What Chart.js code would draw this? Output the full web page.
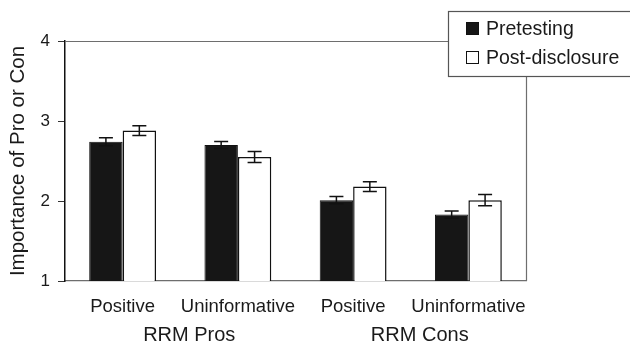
<!DOCTYPE html>
<html>
<head>
<meta charset="utf-8">
<script src="https://cdn.jsdelivr.net/npm/chart.js@4/dist/chart.umd.min.js"></script>
<style>
  html, body { margin: 0; padding: 0; background: #fff; }
  #wrap { width: 630px; height: 347px; }
</style>
</head>
<body>
<div id="wrap"><canvas id="c" width="630" height="347"></canvas></div>
<script>
const categories = ["Positive", "Uninformative", "Positive", "Uninformative"];
const groups = ["RRM Pros", "RRM Cons"];
const seriesNames = ["Pretesting", "Post-disclosure"];
const pretesting = [2.74, 2.70, 2.01, 1.83];
const postDisclosure = [2.88, 2.55, 2.18, 2.01];
const pretestingErr = [0.05, 0.045, 0.045, 0.045];
const postDisclosureErr = [0.06, 0.07, 0.06, 0.07];
const yTicks = [1, 2, 3, 4];

const FONT = "'Liberation Sans', Arial, sans-serif";
const TEXT = "#1a1a1a";

const extras = {
  id: "extras",
  beforeDatasetsDraw(chart) {
    const ctx = chart.ctx, a = chart.chartArea;
    ctx.save();
    ctx.strokeStyle = "#6e6e6e";
    ctx.lineWidth = 1.2;
    ctx.beginPath();
    ctx.moveTo(a.left, a.top + 0.5);
    ctx.lineTo(a.right + 0.5, a.top + 0.5);
    ctx.lineTo(a.right + 0.5, a.bottom);
    ctx.stroke();
    ctx.restore();
  },
  afterDatasetsDraw(chart) {
    const ctx = chart.ctx, y = chart.scales.y;
    const errs = [pretestingErr, postDisclosureErr];
    ctx.save();
    ctx.strokeStyle = "#111";
    ctx.lineWidth = 1.5;
    chart.data.datasets.forEach((ds, di) => {
      const meta = chart.getDatasetMeta(di);
      meta.data.forEach((bar, i) => {
        const v = ds.data[i], e = errs[di][i];
        const x = bar.x;
        const yt = y.getPixelForValue(v + e), yb = y.getPixelForValue(v - e);
        ctx.beginPath();
        ctx.moveTo(x, yt); ctx.lineTo(x, yb);
        ctx.moveTo(x - 7, yt); ctx.lineTo(x + 7, yt);
        ctx.moveTo(x - 7, yb); ctx.lineTo(x + 7, yb);
        ctx.stroke();
      });
    });
    ctx.restore();
  },
  afterDraw(chart) {
    const ctx = chart.ctx, xs = chart.scales.x;
    ctx.save();
    ctx.fillStyle = TEXT;
    ctx.font = "20px " + FONT;
    ctx.textAlign = "center";
    ctx.textBaseline = "middle";
    groups.forEach((g, gi) => {
      const cx = (xs.getPixelForValue(gi * 2) + xs.getPixelForValue(gi * 2 + 1)) / 2 + 9;
      ctx.fillText(g, cx, 335);
    });
    const lx = 448.5, ly = 11.5, lw = 200, lh = 65;
    ctx.fillStyle = "#fff";
    ctx.fillRect(lx, ly, lw, lh);
    ctx.strokeStyle = "#555";
    ctx.lineWidth = 1.2;
    ctx.strokeRect(lx, ly, lw, lh);
    const rows = [29, 58];
    const fills = ["#161616", "#ffffff"];
    ctx.font = "19.5px " + FONT;
    ctx.textAlign = "left";
    seriesNames.forEach((n, i) => {
      ctx.fillStyle = fills[i];
      ctx.fillRect(466.5, rows[i] - 6.5, 12, 12);
      ctx.strokeStyle = "#111";
      ctx.lineWidth = 1;
      ctx.strokeRect(466.5, rows[i] - 6.5, 12, 12);
      ctx.fillStyle = TEXT;
      ctx.fillText(n, 486, rows[i] + 1);
    });
    ctx.restore();
  }
};

new Chart(document.getElementById("c"), {
  type: "bar",
  data: {
    labels: categories,
    datasets: [
      { label: seriesNames[0], data: pretesting, backgroundColor: "#161616", borderColor: "#111", borderWidth: 1 },
      { label: seriesNames[1], data: postDisclosure, backgroundColor: "#ffffff", borderColor: "#111", borderWidth: 1.5 }
    ]
  },
  options: {
    responsive: false,
    animation: false,
    devicePixelRatio: 1,
    layout: { padding: { left: 0, right: 104, top: 41, bottom: 0 } },
    plugins: { legend: { display: false }, tooltip: { enabled: false } },
    datasets: { bar: { categoryPercentage: 0.58, barPercentage: 1.0 } },
    scales: {
      x: {
        grid: { display: false, drawTicks: false },
        border: { display: true, color: "#6e6e6e", width: 1.2 },
        ticks: { color: TEXT, font: { family: FONT, size: 18.5 }, padding: 15, maxRotation: 0, autoSkip: false },
        afterFit(s) { s.height = 66; }
      },
      y: {
        min: 1, max: 4,
        afterBuildTicks(s) { s.ticks = yTicks.map(v => ({ value: v })); },
        grid: { drawOnChartArea: false, drawTicks: true, tickLength: 7, color: "#333" },
        border: { display: true, color: "#111", width: 1.5 },
        ticks: { color: TEXT, font: { family: FONT, size: 17 }, padding: 8 },
        title: { display: true, text: "Importance of Pro or Con", color: TEXT, font: { family: FONT, size: 20.5 }, padding: { top: 6, bottom: 0 } },
        afterFit(s) { s.width = 65; }
      }
    }
  },
  plugins: [extras]
});
</script>
</body>
</html>
